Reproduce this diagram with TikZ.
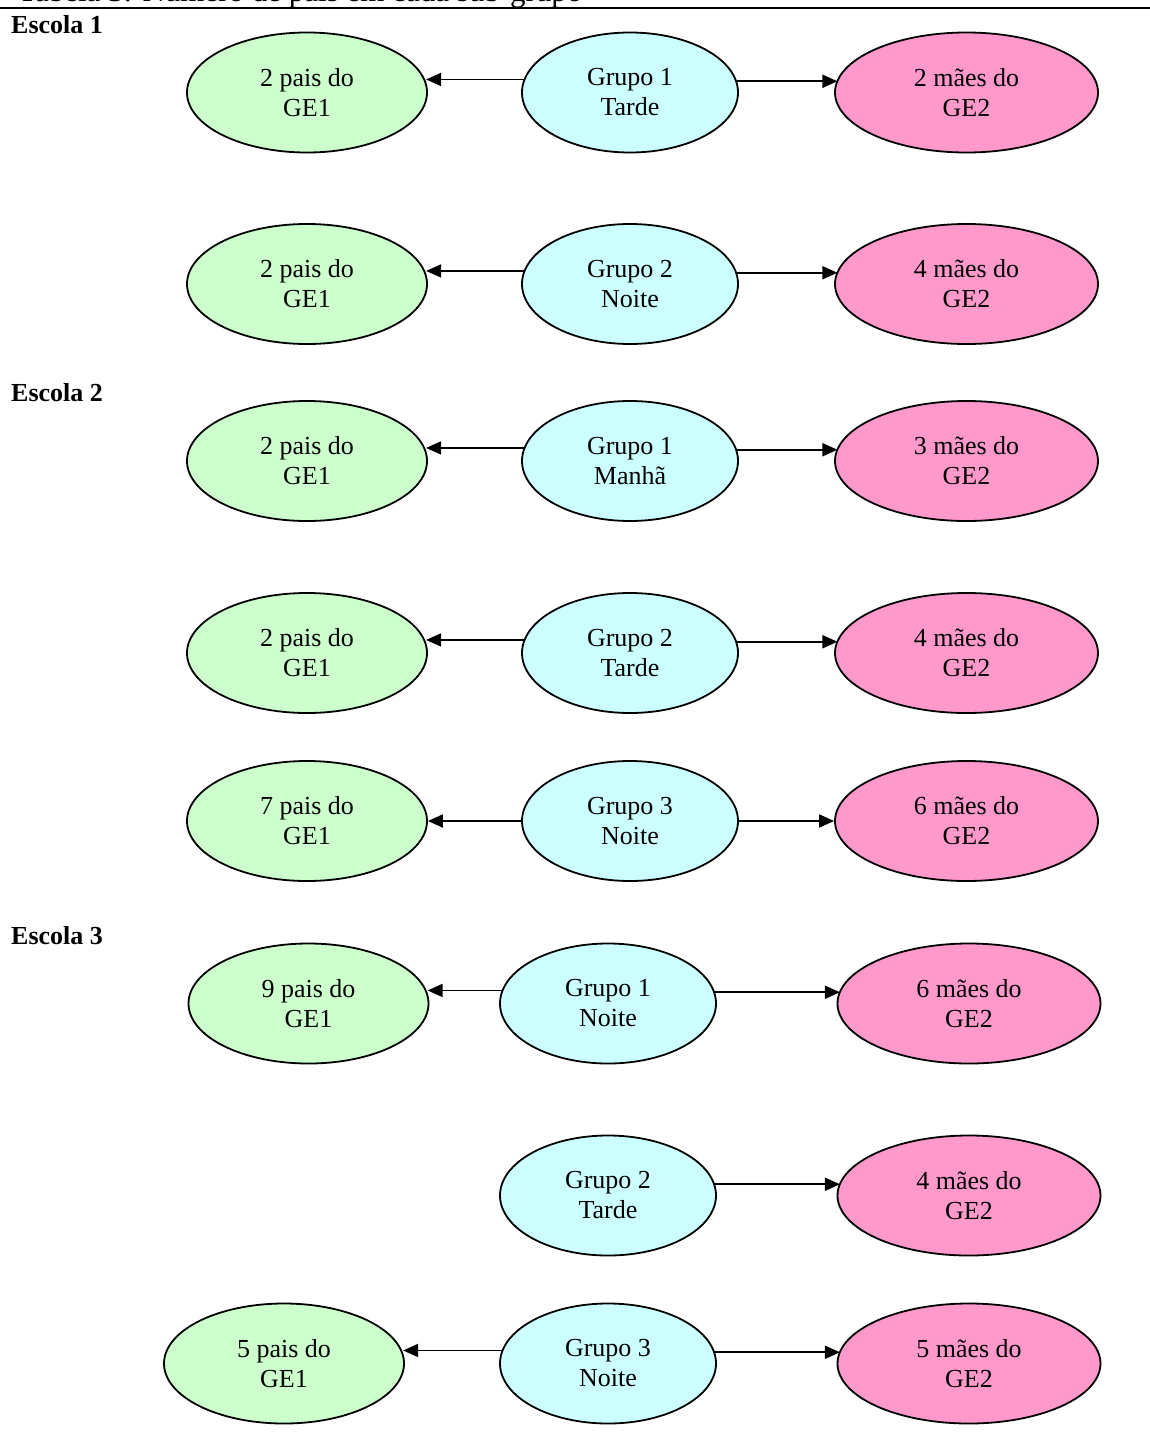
\documentclass[tikz,border=0pt]{standalone}
\usepackage{fontspec}
\setmainfont{Liberation Serif}
\usetikzlibrary{shapes.geometric,arrows.meta}
\definecolor{cgreen}{RGB}{204,255,204}
\definecolor{cblue}{RGB}{204,255,255}
\definecolor{cpink}{RGB}{255,153,204}
\begin{document}
\begin{tikzpicture}[x=1pt,y=-1pt,
  every node/.style={font=\fontsize{26}{30}\selectfont},
  oval/.style={ellipse,draw=black,line width=1.8pt,align=center,inner sep=0pt,minimum height=120pt},
  pais/.style={oval,fill=cgreen,minimum width=240pt},
  grupo/.style={oval,fill=cblue,minimum width=216pt},
  maes/.style={oval,fill=cpink,minimum width=263pt},
  conn/.style={line width=1.8pt,-{Triangle[length=15pt,width=13pt]}},
  escola/.style={anchor=base west,inner sep=0pt,font=\fontsize{26}{30}\selectfont\bfseries}]
\useasboundingbox (0,0) rectangle (1150,1454);
\clip (0,0) rectangle (1150,1454);
\fill[white] (0,0) rectangle (1150,1454);
% cut-off caption and rule
\node[anchor=base west,inner sep=0pt,font=\fontsize{31}{34}\selectfont] (cap) at (18,1.5) {Tabela 3: Número de pais em cada sub-grupo};
\draw[line width=2pt] (0,7.5) -- (1150,7.5);
% Escola 1
\node[escola] (e1) at (11,33) {Escola 1};
\node[pais]  (g1) at (307,92.5) {2 pais do\\GE1};
\node[grupo] (b1) at (630,92.5) {Grupo 1\\Tarde};
\node[maes]  (p1) at (966.5,92.5) {2 mães do\\GE2};
\node[pais]  (g2) at (307,284) {2 pais do\\GE1};
\node[grupo] (b2) at (630,284) {Grupo 2\\Noite};
\node[maes]  (p2) at (966.5,284) {4 mães do\\GE2};
% Escola 2
\node[escola] (e2) at (11,401) {Escola 2};
\node[pais]  (g3) at (307,461) {2 pais do\\GE1};
\node[grupo] (b3) at (630,461) {Grupo 1\\Manhã};
\node[maes]  (p3) at (966.5,461) {3 mães do\\GE2};
\node[pais]  (g4) at (307,653) {2 pais do\\GE1};
\node[grupo] (b4) at (630,653) {Grupo 2\\Tarde};
\node[maes]  (p4) at (966.5,653) {4 mães do\\GE2};
\node[pais]  (g5) at (307,821) {7 pais do\\GE1};
\node[grupo] (b5) at (630,821) {Grupo 3\\Noite};
\node[maes]  (p5) at (966.5,821) {6 mães do\\GE2};
% Escola 3
\node[escola] (e3) at (11,944) {Escola 3};
\node[pais]  (g6) at (308.5,1003.5) {9 pais do\\GE1};
\node[grupo] (b6) at (608,1003.5) {Grupo 1\\Noite};
\node[maes]  (p6) at (969,1003.5) {6 mães do\\GE2};
\node[grupo] (b7) at (608,1195.5) {Grupo 2\\Tarde};
\node[maes]  (p7) at (969,1195.5) {4 mães do\\GE2};
\node[pais]  (g8) at (284,1363.5) {5 pais do\\GE1};
\node[grupo] (b8) at (608,1363.5) {Grupo 3\\Noite};
\node[maes]  (p8) at (969,1363.5) {5 mães do\\GE2};
% connectors
\foreach \i in {1,2,3,4,6,8} {
  \draw[conn] (b\i.173.5) -- (g\i.5.8 |- b\i.173.5);
}
\foreach \i in {1,2,3,4,6,7,8} {
  \draw[conn] (b\i.6.5) -- (p\i.174.7 |- b\i.6.5);
}
\draw[conn] (b5.west) -- (g5.east);
\draw[conn] (b5.east) -- (p5.west);
\end{tikzpicture}
\end{document}
